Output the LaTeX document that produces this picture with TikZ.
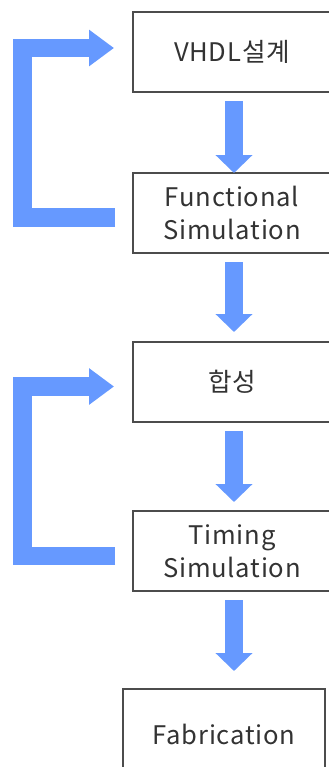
\documentclass[tikz,border=0pt]{standalone}
\usepackage{fontspec}
\setmainfont{Noto Sans CJK KR}[LetterSpace=3]
\usetikzlibrary{arrows.meta,positioning,calc}
\definecolor{flowblue}{RGB}{102,153,255}

\begin{document}
\begin{tikzpicture}[
  x=0.5pt, y=-0.5pt,
  node distance=40.5pt,
  stage/.style={draw=black!70, line width=0.6pt, fill=white, align=center,
                minimum width=99pt, minimum height=40pt, outer sep=0pt,
                text=black!80, font=\fontsize{12.8}{16.5}\selectfont},
  downarrow/.style={draw=flowblue, line width=9pt, shorten <=4.5pt,
                    -{Triangle[length=9pt,width=18pt]}},
  backarrow/.style={draw=flowblue, line width=9.25pt, line join=miter,
                    -{Triangle[length=12.5pt,width=17.5pt]}}
]
\useasboundingbox (0,0) rectangle (328,767);
% design steps
\node[stage] (vhdl) at (232,52) {VHDL설계};
\node[stage, below=of vhdl] (func) {Functional\\Simulation};
\node[stage, below=44.5pt of func] (synth) {합성};
\node[stage, below=44.5pt of synth] (timing) {Timing\\Simulation};
\node[stage, below=49pt of timing, xshift=-4pt,
      minimum width=101pt, minimum height=45pt] (fab) {Fabrication};
% forward flow
\draw[downarrow] ([xshift=1pt]vhdl.south)   -- ([xshift=1pt]func.north);
\draw[downarrow, shorten >=5pt] ([xshift=1pt]func.south)  -- ([xshift=1pt]synth.north);
\draw[downarrow, shorten >=4.5pt] ([xshift=1pt]synth.south) -- ([xshift=1pt]timing.north);
\draw[downarrow, shorten >=9pt] ([xshift=1pt]timing.south) -- ([xshift=5pt]fab.north);
% iterations back
\draw[backarrow] ($(func.west)+(-18,4.5)$) -| ($(vhdl.west)+(-110.5,-4)$)
                 -- ($(vhdl.west)+(-19,-4)$);
\draw[backarrow] ($(timing.west)+(-18,5)$) -| ($(synth.west)+(-110.5,4.5)$)
                 -- ($(synth.west)+(-19,4.5)$);
\end{tikzpicture}
\end{document}
